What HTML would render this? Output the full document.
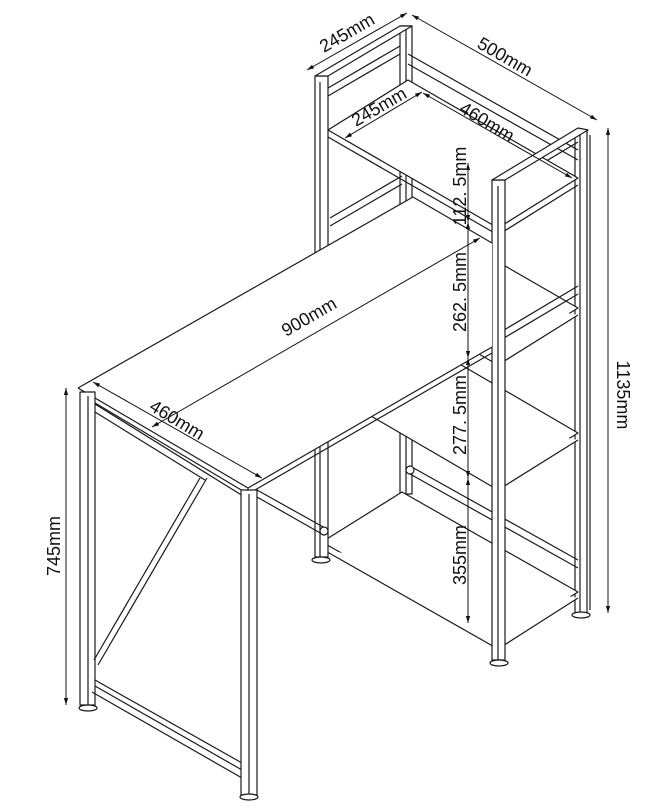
<!DOCTYPE html>
<html><head><meta charset="utf-8"><style>
html,body{margin:0;padding:0;background:#fff}
svg{display:block}
text{font-family:"Liberation Sans",sans-serif;font-size:18px;fill:#111}
</style></head><body>
<svg width="662" height="811" viewBox="0 0 662 811" xmlns="http://www.w3.org/2000/svg">
<defs>
<marker id="a" viewBox="0 0 10 10" refX="10" refY="5" markerWidth="7" markerHeight="7" orient="auto-start-reverse"><path d="M0,2 L10,5 L0,8 z" fill="#111"/></marker>
</defs>
<g stroke="#1a1a1a" stroke-width="1.2" fill="none" stroke-linejoin="round">

<!-- back right pole -->
<rect x="575" y="130" width="12" height="483" fill="#fff"/>
<line x1="580" y1="130" x2="580" y2="613"/>
<ellipse cx="581" cy="615" rx="9" ry="3" fill="#fff"/>
<!-- back left pole -->
<rect x="400" y="26" width="12" height="468" fill="#fff"/>
<line x1="406" y1="26" x2="406" y2="494"/>

<!-- top back rod -->
<path d="M408,54 L578,150 M408,64 L578,160" />
<path d="M498,180 L580,130 M498,190 L578,142" />

<!-- shelves -->
<g fill="#fff">
<path d="M328,130 L408,80 L578,178 L498,228 Z"/>
<path d="M328,137 L498,235 M498,235 L578,185"/>
<path d="M328,260 L408,210 L578,308 L498,358 Z"/>
<path d="M328,267 L498,365 L578,315"/>
<path d="M328,384 L408,334 L578,433 L498,483 Z"/>
<path d="M328,391 L498,490 L578,440"/>
<path d="M322,542 L402,492 L578,592 L498,642 Z"/>
<path d="M322,549 L498,649 L578,598"/>
</g>
<path d="M504,330 L578,286 M504,338 L578,294"/>
<path d="M410,466 L578,560 M410,474 L578,568"/>
<circle cx="410" cy="470" r="4" fill="#fff"/>
<path d="M330,218 L402,176 M330,226 L402,184"/>

<!-- left frame front pole -->
<rect x="315" y="76" width="13" height="481" fill="#fff"/>
<line x1="320" y1="82" x2="320" y2="557"/>
<ellipse cx="321" cy="560" rx="9" ry="3" fill="#fff"/>
<path d="M315,76 L400,26 L412,26 L328,76 Z" fill="#fff"/>
<path d="M328,88 L400,46 M328,96 L400,54"/>

<!-- right frame front pole -->
<rect x="492" y="180" width="13" height="480" fill="#fff"/>
<line x1="498" y1="186" x2="498" y2="660"/>
<path d="M492,180 L578,128 L588,130 L505,180 Z" fill="#fff"/>
<ellipse cx="499" cy="663" rx="9" ry="3" fill="#fff"/>
<line x1="590" y1="135" x2="590" y2="610"/>

<!-- desk -->
<path d="M78,388 L413,197 L492,243 L492,347 L248,488 Z" fill="#fff" stroke="none"/>
<path d="M78,388 L413,197 L492,243"/>
<path d="M78,388 L248,488 L492,347"/>
<path d="M80,394 L248,494 L492,353"/>
<path d="M248,488 L248,494"/>
<path d="M257,490 L325,528 M257,497 L322,534"/>
<circle cx="324" cy="531" r="4" fill="#fff"/>

<!-- desk left side frame -->
<rect x="80" y="392" width="15" height="313" fill="#fff"/>
<line x1="88" y1="396" x2="88" y2="705"/>
<ellipse cx="88" cy="708" rx="9" ry="3" fill="#fff"/>
<path d="M95,404 L243,496 M95,412 L205,480"/>
<path d="M207,478 L98,665 M200,478 L94,660"/>
<path d="M95,680 L242,763 M95,686 L242,770 M92,692 L242,778" />
<rect x="241" y="490" width="16" height="305" fill="#fff"/>
<line x1="249" y1="494" x2="249" y2="795"/>
<ellipse cx="249" cy="797" rx="9" ry="3" fill="#fff"/>
</g>

<!-- dimension lines -->
<g stroke="#111" stroke-width="1" fill="none">
<line x1="307" y1="70" x2="407" y2="13" marker-start="url(#a)" marker-end="url(#a)"/>
<line x1="412" y1="15" x2="597" y2="120" marker-start="url(#a)" marker-end="url(#a)"/>
<line x1="345" y1="138" x2="422" y2="92" marker-start="url(#a)" marker-end="url(#a)"/>
<line x1="423" y1="93" x2="572" y2="178" marker-start="url(#a)" marker-end="url(#a)"/>
<line x1="93" y1="382" x2="262" y2="478" marker-start="url(#a)" marker-end="url(#a)"/>
<line x1="152" y1="427" x2="480" y2="238" marker-start="url(#a)" marker-end="url(#a)"/>
<line x1="66" y1="388" x2="66" y2="705" marker-start="url(#a)" marker-end="url(#a)"/>
<line x1="608" y1="128" x2="608" y2="613" marker-start="url(#a)" marker-end="url(#a)"/>
<line x1="468" y1="163" x2="468" y2="222" marker-start="url(#a)" marker-end="url(#a)"/>
<line x1="468" y1="222" x2="468" y2="358" marker-start="url(#a)" marker-end="url(#a)"/>
<line x1="468" y1="358" x2="468" y2="478" marker-start="url(#a)" marker-end="url(#a)"/>
<line x1="468" y1="478" x2="468" y2="623" marker-start="url(#a)" marker-end="url(#a)"/>
</g>

<g>
<text transform="translate(350,38) rotate(-30)" text-anchor="middle">245mm</text>
<text transform="translate(502,62) rotate(30)" text-anchor="middle">500mm</text>
<text transform="translate(382,112) rotate(-30)" text-anchor="middle">245mm</text>
<text transform="translate(484,127) rotate(31)" text-anchor="middle">460mm</text>
<text transform="translate(312,322) rotate(-30)" text-anchor="middle">900mm</text>
<text transform="translate(174,425) rotate(31)" text-anchor="middle">460mm</text>
<text transform="translate(60,546) rotate(-90)" text-anchor="middle">745mm</text>
<text transform="translate(617,395) rotate(90)" text-anchor="middle">1135mm</text>
<text transform="translate(466,186) rotate(-90)" text-anchor="middle">112. 5mm</text>
<text transform="translate(466,292) rotate(-90)" text-anchor="middle">262. 5mm</text>
<text transform="translate(466,415) rotate(-90)" text-anchor="middle">277. 5mm</text>
<text transform="translate(466,555) rotate(-90)" text-anchor="middle">355mm</text>
</g>
</svg>
</body></html>
